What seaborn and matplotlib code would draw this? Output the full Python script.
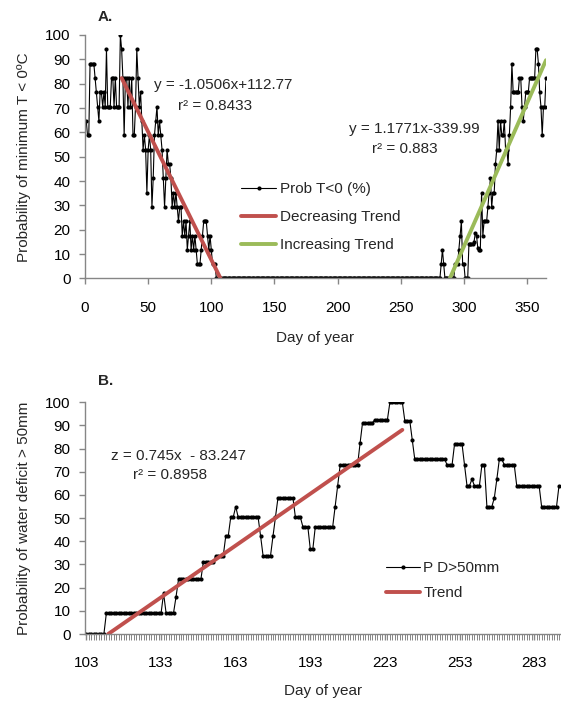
import numpy as np
import pandas as pd
import matplotlib
matplotlib.use("Agg")
import matplotlib.pyplot as plt
import seaborn as sns

# === Panel A: probability of minimum T < 0 (%) per day of year ===
frost_early = [  # days 1..103
    64.7, 58.8, 58.8, 88.2, 88.2, 88.2, 88.2, 82.4, 76.5, 70.6,
    64.7, 76.5, 76.5, 70.6, 76.5, 70.6, 94.1, 70.6, 70.6, 70.6,
    82.4, 82.4, 70.6, 82.4, 70.6, 70.6, 70.6, 100.0, 94.1, 82.4,
    58.8, 82.4, 82.4, 70.6, 82.4, 70.6, 82.4, 58.8, 58.8, 70.6,
    94.1, 82.4, 70.6, 76.5, 64.7, 52.9, 58.8, 52.9, 35.3, 52.9,
    58.8, 52.9, 29.4, 41.2, 58.8, 64.7, 70.6, 58.8, 64.7, 58.8,
    52.9, 41.2, 29.4, 41.2, 52.9, 47.1, 47.1, 41.2, 29.4, 35.3,
    29.4, 35.3, 29.4, 23.5, 29.4, 29.4, 17.6, 23.5, 17.6, 23.5,
    11.8, 17.6, 23.5, 11.8, 17.6, 11.8, 17.6, 11.8, 5.9, 5.9,
    5.9, 11.8, 17.6, 23.5, 23.5, 23.5, 17.6, 11.8, 17.6, 11.8,
    5.9, 5.9, 5.9,
]
frost_late_start = 280  # no frost from the end of frost_early until this day
frost_late = [  # days 280..365
    0, 0, 5.9, 11.8, 5.9, 0, 0, 0, 0, 0,
    0, 0, 0, 5.9, 5.9, 5.9, 11.8, 17.6, 23.5, 5.9,
    5.9, 0, 0, 0, 14.3, 14.3, 14.3, 14.3, 15.0, 18.5,
    17.6, 12.5, 11.8, 11.8, 35.3, 17.6, 23.5, 23.5, 23.5, 29.4,
    35.3, 41.2, 29.4, 35.3, 35.3, 47.1, 52.9, 64.7, 52.9, 64.7,
    58.8, 58.8, 64.7, 52.9, 52.9, 47.1, 58.8, 70.6, 88.2, 76.5,
    76.5, 76.5, 76.5, 76.5, 82.4, 82.4, 70.6, 64.7, 70.6, 76.5,
    76.5, 76.5, 82.4, 82.4, 82.4, 82.4, 82.4, 94.1, 94.1, 88.2,
    76.5, 70.6, 58.8, 70.6, 70.6, 82.4,
]
dec_coef = (-1.0506, 112.77)
dec_days = [29, 107.3]
inc_coef = (1.1771, -339.99)
inc_days = [288.8, 365]

# === Panel B: probability of water deficit > 50mm (flat runs of days) ===
deficit_first_day = 103
deficit_levels = [
    0, 9.1, 17.5, 9.1, 16, 23.6, 31.2, 33.8, 42.3, 50.4,
    55, 50.4, 42.3, 33.8, 42.3, 50.4, 58.8, 50.4, 46.3, 36.5,
    46.3, 55, 64, 72.9, 82.3, 91.2, 92.5, 100, 92, 83.7,
    75.4, 73, 82, 73, 64, 66.8, 64, 73, 55, 58.8,
    66.8, 75.4, 73, 64, 55, 64,
]
deficit_runs = [
    8, 23, 1, 4, 1, 10, 5, 4, 2, 2,
    1, 9, 1, 4, 1, 1, 7, 3, 3, 2,
    8, 1, 1, 8, 1, 5, 6, 6, 3, 1,
    13, 3, 4, 1, 2, 1, 3, 2, 3, 1,
    1, 2, 5, 10, 7, 1,
]
trend_b_coef = (0.745, -83.247)
trend_b_days = [111.7, 230]

# build tables
zero_gap = frost_late_start - 1 - len(frost_early)
frost_vals = frost_early + [0.0] * zero_gap + frost_late
df_a = pd.DataFrame({"day": np.arange(1, len(frost_vals) + 1), "prob": frost_vals})
df_dec = pd.DataFrame({"day": dec_days})
df_dec["prob"] = dec_coef[0] * df_dec["day"] + dec_coef[1]
df_inc = pd.DataFrame({"day": inc_days})
df_inc["prob"] = inc_coef[0] * df_inc["day"] + inc_coef[1]

deficit_vals = np.repeat(deficit_levels, deficit_runs)
df_b = pd.DataFrame({"day": deficit_first_day + np.arange(len(deficit_vals)), "prob": deficit_vals})
df_tb = pd.DataFrame({"day": trend_b_days})
df_tb["prob"] = trend_b_coef[0] * df_tb["day"] + trend_b_coef[1]

# === Style ===
sns.set_style("ticks")
plt.rcParams["font.family"] = ["Liberation Sans", "DejaVu Sans"]
plt.rcParams["font.size"] = 11

RED = "#C0504D"
GREEN = "#9BBB59"
AXGRAY = "#868686"

W, H = 561, 704
fig = plt.figure(figsize=(W / 100, H / 100), dpi=100)


def rect(x0, y0, x1, y1):
    return [x0 / W, 1 - y1 / H, (x1 - x0) / W, (y1 - y0) / H]


def style_axes(ax):
    for s in ["top", "right"]:
        ax.spines[s].set_visible(False)
    for s in ["left", "bottom"]:
        ax.spines[s].set_color(AXGRAY)
        ax.spines[s].set_linewidth(1.0)
    ax.tick_params(axis="both", which="both", direction="out", color=AXGRAY,
                   labelsize=11, labelcolor="black", bottom=True, left=True,
                   top=False, right=False)
    ax.tick_params(axis="y", length=4.5, width=1.0, pad=6)
    ax.tick_params(axis="x", length=4, width=1.0, pad=12)


# === Panel A ===
ax1 = fig.add_axes(rect(85, 35, 546, 278.5))
sns.lineplot(data=df_a, x="day", y="prob", ax=ax1, color="black", linewidth=0.8,
             marker="o", markersize=3, markeredgewidth=0, label="Prob T<0 (%)")
sns.lineplot(data=df_dec, x="day", y="prob", ax=ax1, color=RED, linewidth=2.8,
             label="Decreasing Trend")
sns.lineplot(data=df_inc, x="day", y="prob", ax=ax1, color=GREEN, linewidth=2.8,
             label="Increasing Trend")
ax1.set_xlim(0, 365)
ax1.set_ylim(0, 100)
ax1.set_xticks(range(0, 351, 50))
ax1.set_yticks(range(0, 101, 10))
style_axes(ax1)
ax1.set_xlabel("Day of year", fontsize=11, labelpad=12)
ax1.set_ylabel("Probability of minimum T < 0ºC", fontsize=11, labelpad=10)
ax1.legend(loc="upper left", bbox_to_anchor=(241 / W, 1 - 182 / H),
           bbox_transform=fig.transFigure, frameon=False, fontsize=11,
           borderpad=0, borderaxespad=0, handlelength=2.3, handletextpad=0.25,
           labelspacing=0.92, numpoints=1)

# === Panel B ===
ax2 = fig.add_axes(rect(85, 402.3, 561, 634))
sns.lineplot(data=df_b, x="day", y="prob", ax=ax2, color="black", linewidth=0.8,
             marker="o", markersize=3, markeredgewidth=0, label="P D>50mm")
sns.lineplot(data=df_tb, x="day", y="prob", ax=ax2, color=RED, linewidth=2.8,
             label="Trend")
ax2.set_xlim(102.4, 293.8)
ax2.set_ylim(0, 100)
ax2.set_xticks(range(103, 284, 30))
ax2.set_xticks(np.arange(103, 294), minor=True)
ax2.set_yticks(range(0, 101, 10))
style_axes(ax2)
ax2.tick_params(axis="x", which="minor", length=4, width=0.7)
ax2.set_xlabel("Day of year", fontsize=11, labelpad=10)
ax2.set_ylabel("Probability of water deficit > 50mm", fontsize=11, labelpad=10)
ax2.legend(loc="upper left", bbox_to_anchor=(386 / W, 1 - 561 / H),
           bbox_transform=fig.transFigure, frameon=False, fontsize=11,
           borderpad=0, borderaxespad=0, handlelength=2.2, handletextpad=0.25,
           labelspacing=0.72, numpoints=1)

# === Annotations ===
def ptext(x, y, s, **kw):
    fig.text(x / W, 1 - y / H, s, va="center", ha="left", fontsize=11, **kw)


ptext(98, 17, "A.", fontweight="bold")
ptext(154, 85, "y = -1.0506x+112.77")
ptext(178, 106, "r² = 0.8433")
ptext(349, 129, "y = 1.1771x-339.99")
ptext(372, 149, "r² = 0.883")
ptext(98, 381, "B.", fontweight="bold")
ptext(111, 456, "z = 0.745x  - 83.247")
ptext(133, 475, "r² = 0.8958")

fig.savefig("out.png", dpi=100)
